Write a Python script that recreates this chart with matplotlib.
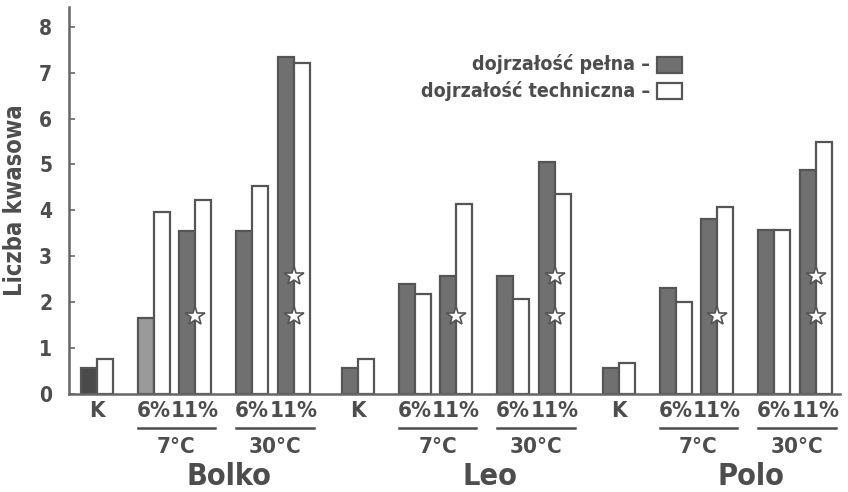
import matplotlib
matplotlib.use("Agg")
import matplotlib.pyplot as plt
from matplotlib.patches import Rectangle
from matplotlib.lines import Line2D
from matplotlib import font_manager as fm

# ---------------- data ----------------
varieties = ["Bolko", "Leo", "Polo"]
conditions = ["K", "6%", "11%", "6%", "11%"]
temps = ["7°C", "30°C"]
pelna = {
    "Bolko": [0.57, 1.65, 3.55, 3.55, 7.34],
    "Leo":   [0.57, 2.39, 2.57, 2.58, 5.05],
    "Polo":  [0.57, 2.31, 3.81, 3.57, 4.88],
}
techniczna = {
    "Bolko": [0.76, 3.97, 4.23, 4.53, 7.20],
    "Leo":   [0.76, 2.18, 4.14, 2.07, 4.35],
    "Polo":  [0.68, 2.00, 4.08, 3.57, 5.49],
}
# stars: condition index -> star heights (same for every variety)
stars = {2: [1.70], 4: [1.70, 2.57]}
yticks = [0, 1, 2, 3, 4, 5, 6, 7, 8]
legend_labels = ["dojrzałość pełna –", "dojrzałość techniczna –"]
ylabel = "Liczba kwasowa"

# ---------------- font ----------------
fp = None
for pref in ["Liberation Sans Narrow", "DejaVu Sans", "Noto Sans", "Open Sans", "Roboto"]:
    cands = [f for f in fm.fontManager.ttflist
             if f.name == pref and str(f.stretch) in ("condensed", "semi-condensed", "extra-condensed")
             or (f.name == pref and pref == "Liberation Sans Narrow")]
    bold = [f for f in cands if (f.weight in ("bold", 700) or (isinstance(f.weight, int) and f.weight >= 600))]
    if bold:
        fp = fm.FontProperties(fname=bold[0].fname)
        break
if fp is None:
    for f in fm.fontManager.ttflist:
        if "ondensed" in f.fname or "Narrow" in f.fname:
            if "Bold" in f.fname and "Italic" not in f.fname and "Oblique" not in f.fname:
                fp = fm.FontProperties(fname=f.fname)
                break
if fp is None:
    fp = fm.FontProperties(family="DejaVu Sans", weight="bold")


def F(size):
    p = fp.copy()
    p.set_size(size)
    return p


TXT = "#4d4d4d"
EDGE = "#555555"
DARK = "#707070"
dark_special = {("Bolko", 0): "#4a4a4a", ("Bolko", 1): "#9a9a9a"}

offsets = [0, 57, 98, 155, 197]
group_gap = 261
bw = 16

fig = plt.figure(figsize=(8.48, 4.92), dpi=100)
ax = fig.add_axes([69 / 848, 1 - 394 / 492, 771 / 848, 387 / 492])
ax.set_xlim(-28, 743)
ax.set_ylim(0, 8.43)

for gi, v in enumerate(varieties):
    base = gi * group_gap
    for ci in range(len(conditions)):
        c = base + offsets[ci]
        fc = dark_special.get((v, ci), DARK)
        ax.bar(c - bw / 2, pelna[v][ci], width=bw, color=fc, edgecolor=EDGE,
               linewidth=1.6, zorder=2)
        ax.bar(c + bw / 2, techniczna[v][ci], width=bw, color="white",
               edgecolor=EDGE, linewidth=1.6, zorder=2)
        for s in stars.get(ci, []):
            ax.plot(c, s, marker="*", markersize=15, markerfacecolor="white",
                    markeredgecolor=EDGE, markeredgewidth=1.2, zorder=4,
                    linestyle="none")

    tr = ax.get_xaxis_transform()
    for ci, lab in enumerate(conditions):
        ax.text(base + offsets[ci], -0.045, lab, transform=tr, ha="center",
                va="center", fontproperties=F(16), color=TXT)
    for ti, t in enumerate(temps):
        c1 = base + offsets[1 + 2 * ti]
        c2 = base + offsets[2 + 2 * ti]
        ax.add_line(Line2D([c1 - 16, c2 + 20], [-0.088, -0.088], transform=tr,
                           color=TXT, linewidth=1.8, clip_on=False))
        ax.text((c1 + c2) / 2 + 2, -0.137, t, transform=tr, ha="center",
                va="center", fontproperties=F(16), color=TXT)
    gc = base + (offsets[1] + offsets[4]) / 2 + 5
    ax.text(gc, -0.214, v, transform=tr, ha="center", va="center",
            fontproperties=F(22), color=TXT)

for side in ["top", "right"]:
    ax.spines[side].set_visible(False)
for side in ["left", "bottom"]:
    ax.spines[side].set_color("#666666")
    ax.spines[side].set_linewidth(1.8)
ax.set_xticks([])
ax.set_yticks(yticks)
ax.set_yticklabels([str(t) for t in yticks], fontproperties=F(15), color=TXT)
ax.tick_params(axis="y", direction="in", length=4, width=1.2, color="#666666",
               pad=12)
ax.set_ylabel(ylabel, fontproperties=F(17), color=TXT, labelpad=9)

fig.text(650 / 848, 1 - 64 / 492, legend_labels[0], ha="right", va="center",
         fontproperties=F(14), color=TXT)
fig.text(650 / 848, 1 - 91 / 492, legend_labels[1], ha="right", va="center",
         fontproperties=F(14), color=TXT)
fig.patches.append(Rectangle((657 / 848, 1 - 73 / 492), 25 / 848, 16 / 492,
                             transform=fig.transFigure, facecolor=DARK,
                             edgecolor=EDGE, linewidth=1.6))
fig.patches.append(Rectangle((657 / 848, 1 - 99 / 492), 25 / 848, 16 / 492,
                             transform=fig.transFigure, facecolor="white",
                             edgecolor=EDGE, linewidth=1.6))

fig.savefig("out.png", dpi=100)
